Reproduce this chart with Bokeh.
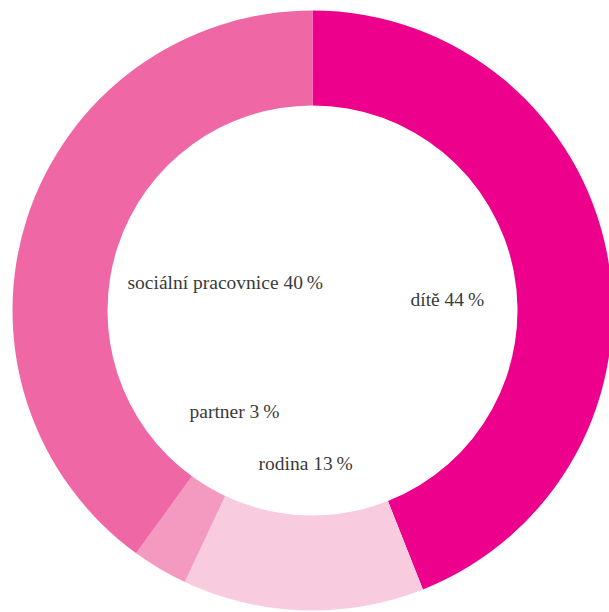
import numpy as np
from bokeh.plotting import figure
from bokeh.models import Range1d, ColumnDataSource
from bokeh.core.properties import value
from bokeh.embed import file_html
from bokeh.resources import INLINE

categories = ["dítě", "rodina", "partner", "sociální pracovnice"]
shares = [44, 13, 3, 40]
colors = ["#EC008C", "#F8CBDF", "#F49AC1", "#F067A6"]

# label anchor positions (layout, pixel offsets from centre)
label_x = [98, -54, -123, -185]
label_y = [11, -153, -101, 28]

frac = np.array(shares, dtype=float) / sum(shares)
cum = np.cumsum(frac)
start = np.pi / 2 - 2 * np.pi * (cum - frac)
end = np.pi / 2 - 2 * np.pi * cum

labels = [f"{c} {s}\u2009%" for c, s in zip(categories, shares)]

src = ColumnDataSource(dict(start=start, end=end, color=colors,
                            lx=label_x, ly=label_y, text=labels))

p = figure(width=609, height=612, output_backend="svg", toolbar_location=None,
           x_range=Range1d(-312, 297), y_range=Range1d(-302, 310),
           min_border=0)
p.axis.visible = False
p.grid.visible = False
p.outline_line_color = None
p.background_fill_color = "white"
p.border_fill_color = "white"

p.annular_wedge(x=0, y=0, inner_radius=205, outer_radius=300,
                start_angle="start", end_angle="end", direction="clock",
                fill_color="color", line_color=None, source=src)

p.text(x="lx", y="ly", text="text", source=src,
       text_font=value("Liberation Serif"), text_font_size="19.5px",
       text_color="#3a3a3a", text_baseline="middle", text_align="left")

open("out.html", "w").write(file_html(p, INLINE))
